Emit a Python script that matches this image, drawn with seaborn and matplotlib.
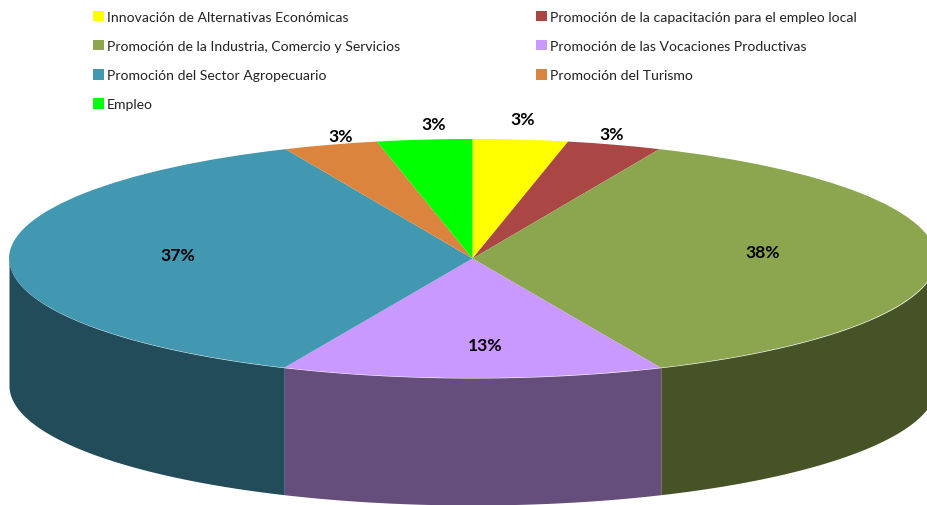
import numpy as np
import matplotlib
matplotlib.use('Agg')
import matplotlib.pyplot as plt
from matplotlib.patches import Patch
import seaborn as sns

# Slice shares, printed labels as shown on it
categories = ['Innovación de Alternativas Económicas',
              'Promoción de la capacitación para el empleo local',
              'Promoción de la Industria, Comercio y Servicios',
              'Promoción de las Vocaciones Productivas',
              'Promoción del Sector Agropecuario',
              'Promoción del Turismo',
              'Empleo']
shares = [3.3, 3.3, 36.7, 13.3, 36.7, 3.3, 3.3]
pct_labels = ['3%', '3%', '38%', '13%', '37%', '3%', '3%']

top_colors = ['#FFFF00', '#AA4644', '#8BA64F', '#C999FF', '#4298B0', '#DB843D', '#00FF00']
wall_colors = ['#7F7F00', '#552322', '#465327', '#654D7C', '#234C5A', '#6D421E', '#007F00']

# Label centres in pixels
label_px = [(523, 120), (612, 135), (763, 253), (485, 346), (178, 256), (341, 137), (434, 125)]

W, H = 927, 506
CX, CY, RX, RY, DEPTH = 472.5, 259.5, 463.5, 119.5, 127

sns.set_theme(style='white')
plt.rcParams['font.family'] = ['Lato', 'DejaVu Sans']

fig = plt.figure(figsize=(W / 100, H / 100), dpi=100)
ax = fig.add_axes([0, 0, 1, 1])

palette = sns.color_palette(top_colors)
ax.pie(shares, colors=palette, startangle=90, counterclock=False, radius=1,
       wedgeprops={'linewidth': 0, 'zorder': 3})

# Squash the pie into an ellipse, the figure cuts it on the right like the original
ax.set_aspect('auto')
ax.set_xlim(-CX / RX, (W - CX) / RX)
ax.set_ylim((CY - H) / RY, CY / RY)

# Side wall: only the part of each slice facing the viewer
edges = np.cumsum([0] + shares) / np.sum(shares) * 360
for i, color in enumerate(wall_colors):
    t0, t1 = max(edges[i], 90), min(edges[i + 1], 270)
    if t1 <= t0:
        continue
    t = np.radians(np.linspace(t0, t1, 200))
    x, y = np.sin(t), np.cos(t)
    ax.fill_between(x, y, y - DEPTH / RY, color=color, linewidth=0, zorder=2)

for text, (px, py) in zip(pct_labels, label_px):
    fig.text(px / W, 1 - py / H, text, ha='center', va='center',
             fontsize=12.6, fontweight='bold', color='black')

# Legend reads row by row, so two columns are placed on their own
handles = [Patch(facecolor=c, edgecolor='none') for c in top_colors]
for idx, left in [([0, 2, 4, 6], 93), ([1, 3, 5], 536)]:
    fig.legend([handles[i] for i in idx], [categories[i] for i in idx],
               loc='upper left', bbox_to_anchor=(left / W, 1 - 11.5 / H),
               frameon=False, fontsize=10.08, borderpad=0, borderaxespad=0,
               labelspacing=1.21, handlelength=0.8, handleheight=0.8,
               handletextpad=0.18, labelcolor='#222222')

fig.savefig('out.png', dpi=100)
